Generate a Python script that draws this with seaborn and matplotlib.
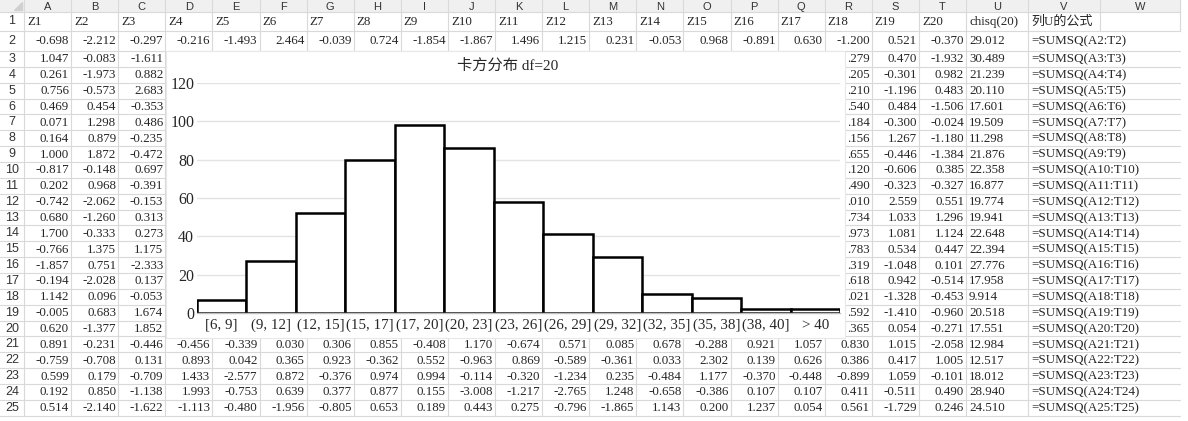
import numpy as np
import pandas as pd
import matplotlib
matplotlib.use("Agg")
import matplotlib.pyplot as plt
import seaborn as sns
from matplotlib.patches import Rectangle

# histogram of chisq(20)
bins = ["[6, 9]", "(9, 12]", "(12, 15]", "(15, 17]", "(17, 20]", "(20, 23]", "(23, 26]",
        "(26, 29]", "(29, 32]", "(32, 35]", "(35, 38]", "(38, 40]", "> 40"]
counts = [7, 27, 52, 80, 98, 86, 58, 41, 29, 10, 8, 2, 2]

# sheet contents
col_letters = list("ABCDEFGHIJKLMNOPQRSTUVW")
headers = ["Z%d" % i for i in range(1, 21)] + ["chisq(20)", "列U的公式"]

row2 = [-0.698, -2.212, -0.297, -0.216, -1.493, 2.464, -0.039, 0.724, -1.854, -1.867,
        1.496, 1.215, 0.231, -0.053, 0.968, -0.891, 0.630, -1.200, 0.521, -0.370]
chisq_row2 = 29.012

# rows 3-20, columns A-C (left of the chart)
left_abc = [
    [1.047, -0.083, -1.611], [0.261, -1.973, 0.882], [0.756, -0.573, 2.683],
    [0.469, 0.454, -0.353], [0.071, 1.298, 0.486], [0.164, 0.879, -0.235],
    [1.000, 1.872, -0.472], [-0.817, -0.148, 0.697], [0.202, 0.968, -0.391],
    [-0.742, -2.062, -0.153], [0.680, -1.260, 0.313], [1.700, -0.333, 0.273],
    [-0.766, 1.375, 1.175], [-1.857, 0.751, -2.333], [-0.194, -2.028, 0.137],
    [1.142, 0.096, -0.053], [-0.005, 0.683, 1.674], [0.620, -1.377, 1.852],
]
# rows 3-20, visible tail of column R (rest hidden under the chart)
r_tail = [".279", ".205", ".210", ".540", ".184", ".156", ".655", ".120", ".490",
          ".010", ".734", ".973", ".783", ".319", ".618", ".021", ".592", ".365"]
# rows 3-20, columns S-T
right_st = [
    [0.470, -1.932], [-0.301, 0.982], [-1.196, 0.483], [0.484, -1.506],
    [-0.300, -0.024], [1.267, -1.180], [-0.446, -1.384], [-0.606, 0.385],
    [-0.323, -0.327], [2.559, 0.551], [1.033, 1.296], [1.081, 1.124],
    [0.534, 0.447], [-1.048, 0.101], [0.942, -0.514], [-1.328, -0.453],
    [-1.410, -0.960], [0.054, -0.271],
]
chisq_3_20 = [30.489, 21.239, 20.110, 17.601, 19.509, 11.298, 21.876, 22.358, 16.877,
              19.774, 19.941, 22.648, 22.394, 27.776, 17.958, 9.914, 20.518, 17.551]

# rows 21-25, columns A-T
rows_21_25 = [
    [0.891, -0.231, -0.446, -0.456, -0.339, 0.030, 0.306, 0.855, -0.408, 1.170,
     -0.674, 0.571, 0.085, 0.678, -0.288, 0.921, 1.057, 0.830, 1.015, -2.058],
    [-0.759, -0.708, 0.131, 0.893, 0.042, 0.365, 0.923, -0.362, 0.552, -0.963,
     0.869, -0.589, -0.361, 0.033, 2.302, 0.139, 0.626, 0.386, 0.417, 1.005],
    [0.599, 0.179, -0.709, 1.433, -2.577, 0.872, -0.376, 0.974, 0.994, -0.114,
     -0.320, -1.234, 0.235, -0.484, 1.177, -0.370, -0.448, -0.899, 1.059, -0.101],
    [0.192, 0.850, -1.138, 1.993, -0.753, 0.639, 0.377, 0.877, 0.155, -3.008,
     -1.217, -2.765, 1.248, -0.658, -0.386, 0.107, 0.107, 0.411, -0.511, 0.490],
    [0.514, -2.140, -1.622, -1.113, -0.480, -1.956, -0.805, 0.653, 0.189, 0.443,
     0.275, -0.796, -1.865, 1.143, 0.200, 1.237, 0.054, 0.561, -1.729, 0.246],
]
chisq_21_25 = [12.984, 12.517, 18.012, 28.940, 24.510]

sns.set_theme(style="white")
plt.rcParams['font.family'] = ['Liberation Serif', 'Noto Sans CJK SC', 'DejaVu Sans']

W, H = 1188, 421
fig = plt.figure(figsize=(W / 100, H / 100), dpi=100)
bg = fig.add_axes([0, 0, 1, 1])
bg.set_xlim(0, W)
bg.set_ylim(H, 0)
bg.axis("off")

# grid geometry (pixels)
col_x = [24 + 47.1 * i for i in range(21)] + [1028, 1100, 1180]
row_y = [0, 12, 31, 51] + [51 + 15.86 * k for k in range(1, 24)]
grid_c = "#d9d9d9"
fs = 9.4

bg.add_patch(Rectangle((0, 0), 1180, 12, facecolor="#f0f0f0", edgecolor="none", zorder=1))
bg.fill([14, 22, 22], [10, 10, 2], color="#d0d0d0", zorder=2)
for y in row_y[1:]:
    bg.plot([0, 1180], [y, y], color=grid_c, lw=0.8, zorder=2)
for i, x in enumerate(col_x):
    y1 = row_y[-1] if x < 1100 else row_y[2]
    bg.plot([x, x], [0, y1], color=grid_c, lw=0.8, zorder=2)

for i, c in enumerate(col_letters):
    cx = (col_x[i] + col_x[i + 1]) / 2
    bg.text(cx, 6.5, c, ha="center", va="center", fontsize=8, color="#333333",
            family="Liberation Sans", zorder=3)
for r in range(1, 26):
    cy = (row_y[r] + row_y[r + 1]) / 2
    bg.text(12, cy, str(r), ha="center", va="center", fontsize=9, color="#333333",
            family="Liberation Sans", zorder=3)


def cell(col, row, s, align="right"):
    cy = (row_y[row] + row_y[row + 1]) / 2 + 0.5
    if align == "right":
        bg.text(col_x[col + 1] - 2, cy, s, ha="right", va="center", fontsize=fs, zorder=3)
    else:
        bg.text(col_x[col] + 3, cy, s, ha="left", va="center", fontsize=fs, zorder=3)


for j, h in enumerate(headers):
    cell(j, 1, h, "left")
for j, v in enumerate(row2):
    cell(j, 2, "%.3f" % v)
cell(20, 2, "%.3f" % chisq_row2, "left")
cell(21, 2, "=SUMSQ(A2:T2)", "left")
for k in range(18):
    r = k + 3
    for j, v in enumerate(left_abc[k]):
        cell(j, r, "%.3f" % v)
    cell(17, r, r_tail[k])
    cell(18, r, "%.3f" % right_st[k][0])
    cell(19, r, "%.3f" % right_st[k][1])
    cell(20, r, "%.3f" % chisq_3_20[k], "left")
    cell(21, r, "=SUMSQ(A%d:T%d)" % (r, r), "left")
for k in range(5):
    r = k + 21
    for j, v in enumerate(rows_21_25[k]):
        cell(j, r, "%.3f" % v)
    cell(20, r, "%.3f" % chisq_21_25[k], "left")
    cell(21, r, "=SUMSQ(A%d:T%d)" % (r, r), "left")

# chart area covering D3:R20
bg.add_patch(Rectangle((166, 51), 845 - 166, 338 - 51, facecolor="white",
                       edgecolor="#e8e8e8", lw=0.8, zorder=5))
bg.text(508, 66, "卡方分布 df=20", ha="center", va="center", fontsize=11, zorder=6)

ax = fig.add_axes([197 / W, (H - 313) / H, (840 - 197) / W, (313 - 83) / H], zorder=10)
df = pd.DataFrame({"bin": bins, "count": counts})
sns.barplot(data=df, x="bin", y="count", color="white", edgecolor="black",
            linewidth=1.8, width=1.0, saturation=1, ax=ax)
ax.set_xlim(-0.5, len(bins) - 0.5)
ax.set_ylim(0, 120)
ax.set_yticks(range(0, 121, 20))
ax.set_xlabel("")
ax.set_ylabel("")
ax.set_facecolor("none")
ax.yaxis.grid(True, color="#e3e3e3", lw=1.0)
ax.set_axisbelow(True)
for s in ["top", "left", "right"]:
    ax.spines[s].set_visible(False)
ax.spines["bottom"].set_color("#bdbdbd")
ax.spines["bottom"].set_linewidth(1.0)
ax.tick_params(axis="y", length=0, pad=2, labelsize=11.5)
ax.tick_params(axis="x", length=0, pad=4, labelsize=10.8)

fig.savefig("out.png", dpi=100)
